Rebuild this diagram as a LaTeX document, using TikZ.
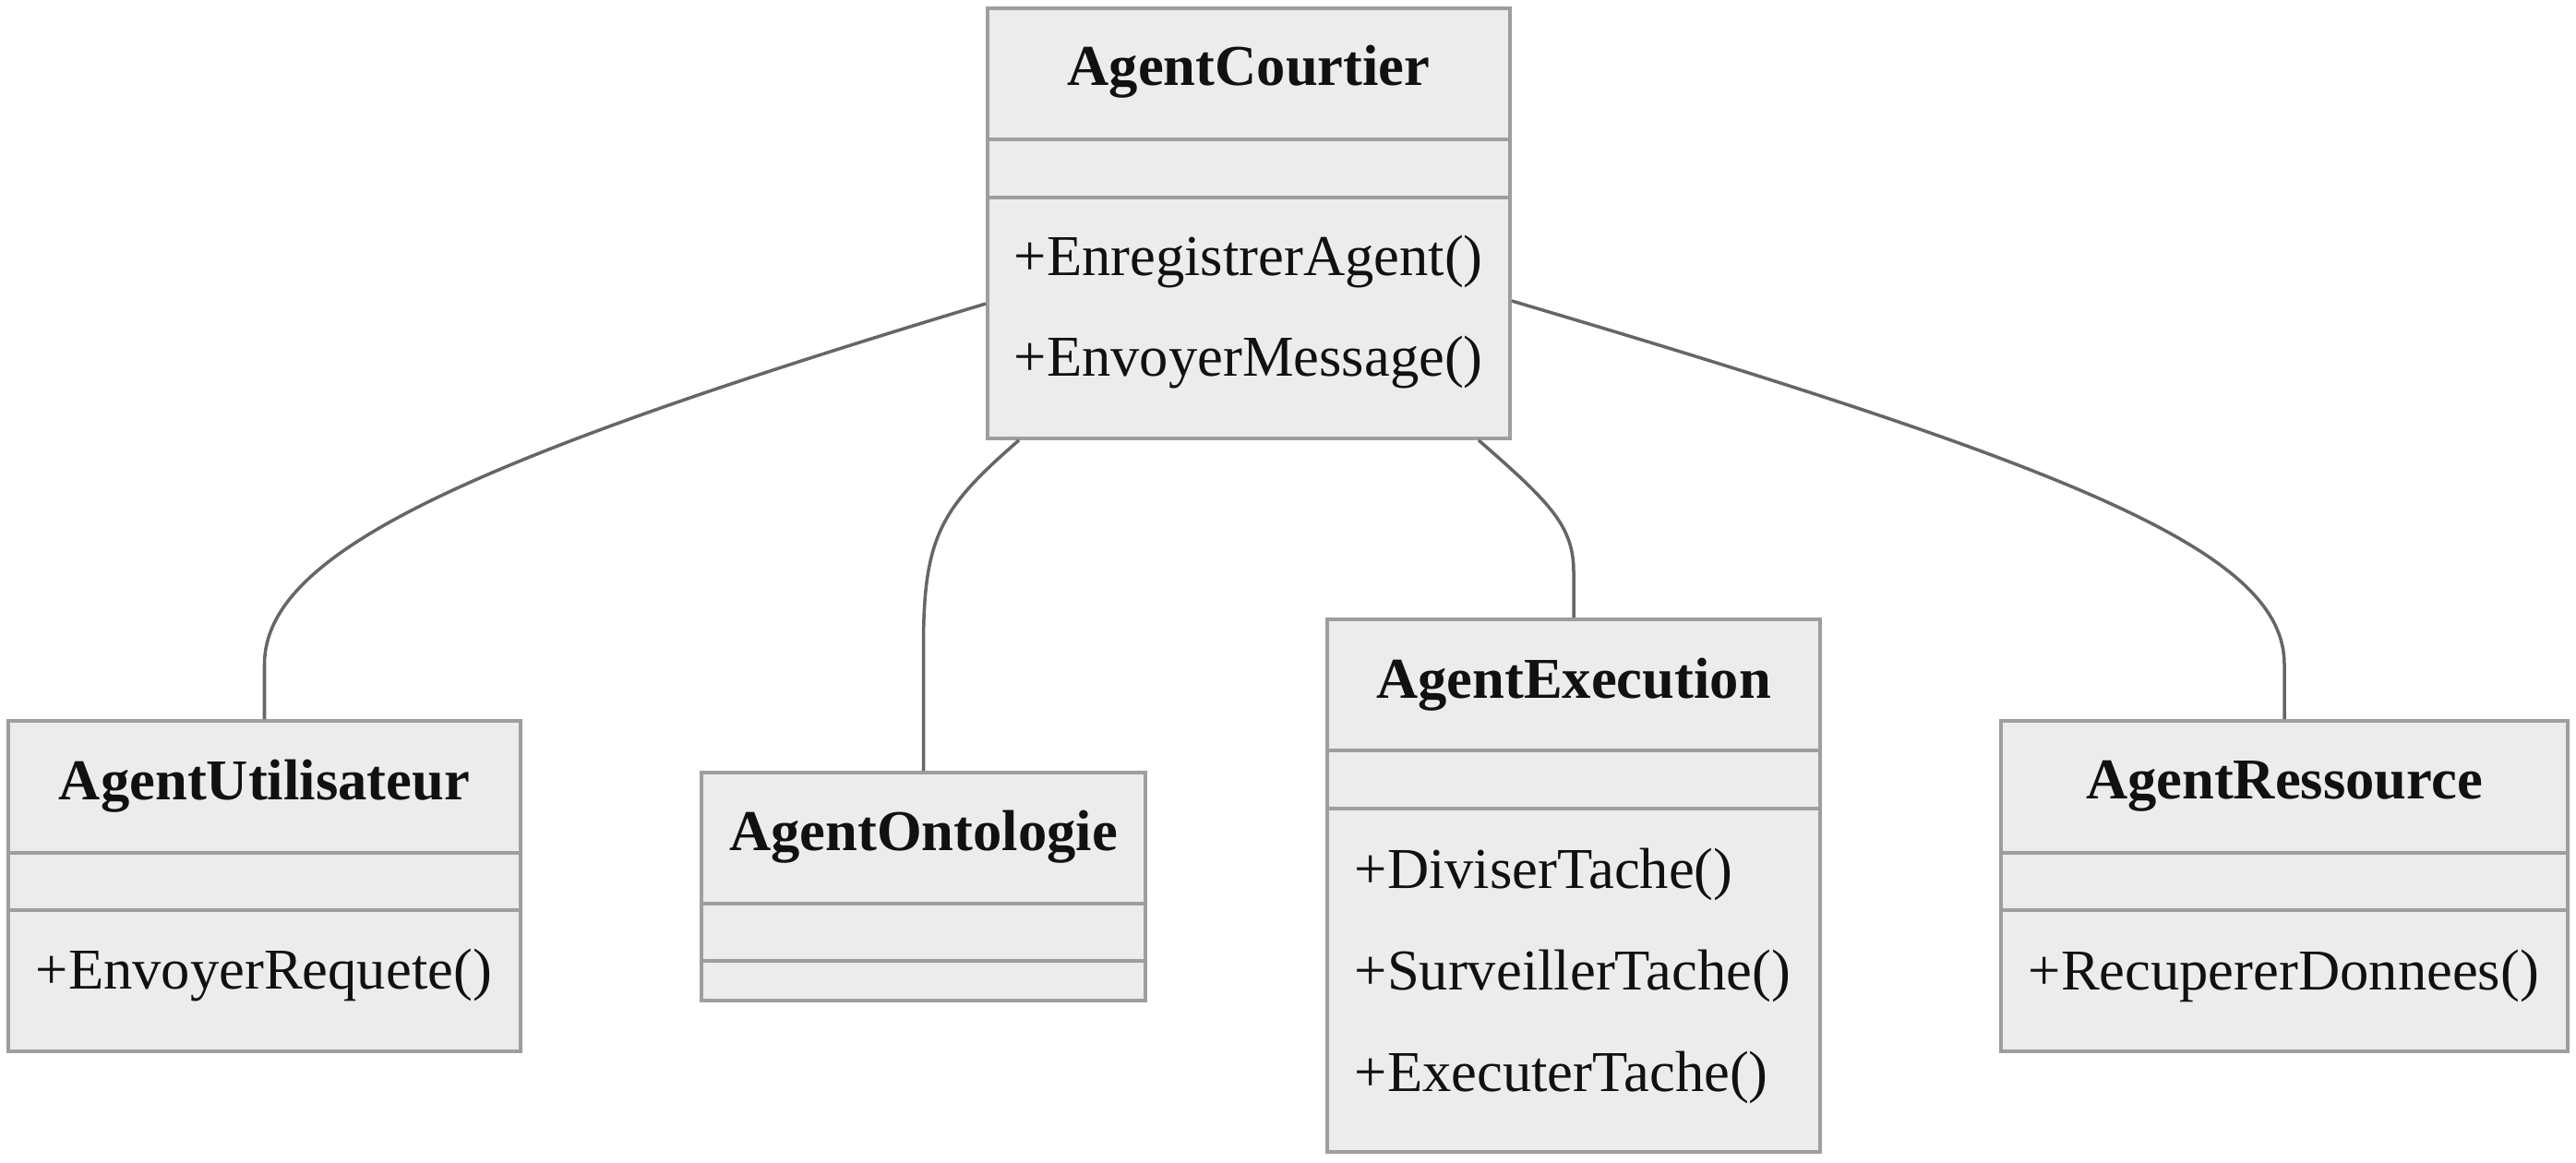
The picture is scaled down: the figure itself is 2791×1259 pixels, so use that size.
\documentclass[tikz,border=0pt]{standalone}
\usepackage{fontspec}
\setmainfont{Liberation Serif}
\definecolor{boxfill}{RGB}{236, 236, 236}
\definecolor{boxline}{RGB}{158, 158, 158}
\definecolor{linkgray}{RGB}{102, 102, 102}
\definecolor{textdark}{RGB}{17, 17, 17}
\usepackage{tikz}
\usetikzlibrary{positioning, calc}

\begin{document}
\begin{tikzpicture}[
  x=0.01cm, y=-0.01cm,
  classbox/.style={draw=boxline, fill=boxfill, line width=1pt, inner sep=0pt},
  divider/.style={draw=boxline, line width=1pt},
  cname/.style={font=\fontsize{17.8}{21}\selectfont\bfseries, text=textdark, inner sep=0pt},
  cmeth/.style={font=\fontsize{17.8}{21}\selectfont, text=textdark, anchor=west, inner sep=0pt},
  link/.style={draw=linkgray, line width=1pt},
]
\useasboundingbox (0,0) rectangle (2791,1259);

% Class boxes
\node[classbox, minimum width=5.66cm, minimum height=4.66cm] (courtier) at (1353, 242) {};
\node[classbox, minimum width=5.55cm, minimum height=3.58cm] (utilisateur) at (286.5, 960) {};
\node[classbox, minimum width=4.81cm, minimum height=2.47cm] (ontologie) at (1000.5, 960.5) {};
\node[classbox, minimum width=5.34cm, minimum height=5.77cm] (execution) at (1705, 959.5) {};
\node[classbox, minimum width=6.14cm, minimum height=3.58cm] (ressource) at (2475, 960) {};

% Compartment lines
\draw[divider] (courtier.west |- 0,151) -- (courtier.east |- 0,151);
\draw[divider] (courtier.west |- 0,214) -- (courtier.east |- 0,214);
\draw[divider] (utilisateur.west |- 0,924) -- (utilisateur.east |- 0,924);
\draw[divider] (utilisateur.west |- 0,986) -- (utilisateur.east |- 0,986);
\draw[divider] (ontologie.west |- 0,979) -- (ontologie.east |- 0,979);
\draw[divider] (ontologie.west |- 0,1041) -- (ontologie.east |- 0,1041);
\draw[divider] (execution.west |- 0,813) -- (execution.east |- 0,813);
\draw[divider] (execution.west |- 0,876) -- (execution.east |- 0,876);
\draw[divider] (ressource.west |- 0,924) -- (ressource.east |- 0,924);
\draw[divider] (ressource.west |- 0,986) -- (ressource.east |- 0,986);

% Class names
\node[cname] (courtierT) at (1353, 78) {AgentCourtier};
\node[cname] (utilisateurT) at (286.5, 852) {AgentUtilisateur};
\node[cname] (ontologieT) at (1000.5, 907) {AgentOntologie};
\node[cname] (executionT) at (1705, 742) {AgentExecution};
\node[cname] (ressourceT) at (2475, 852) {AgentRessource};

% Methods
\node[cmeth] (courtierM1) at (1098, 284) {+EnregistrerAgent()};
\node[cmeth] (courtierM2) at (1098, 393) {+EnvoyerMessage()};
\node[cmeth] (utilisateurM1) at (38, 1057) {+EnvoyerRequete()};
\node[cmeth] (executionM1) at (1467, 947) {+DiviserTache()};
\node[cmeth] (executionM2) at (1467, 1057) {+SurveillerTache()};
\node[cmeth] (executionM3) at (1467, 1167) {+ExecuterTache()};
\node[cmeth] (ressourceM1) at (2197, 1057) {+RecupererDonnees()};

% Links
\draw[link] (courtier.west |- 0,329) .. controls (500,500) and (utilisateur.north |- 0,600) .. (utilisateur.north |- 0,720) -- (utilisateur.north);
\draw[link] (courtier.south west -| 1104,0) .. controls (1020,550) and (ontologie.north |- 0,580) .. (ontologie.north |- 0,700) -- (ontologie.north);
\draw[link] (courtier.south west -| 1602,0) .. controls (1680,545) and (execution.north |- 0,570) .. (execution.north |- 0,620) -- (execution.north);
\draw[link] (courtier.east |- 0,326) .. controls (2260,510) and (ressource.north |- 0,600) .. (ressource.north |- 0,720) -- (ressource.north);
\end{tikzpicture}
\end{document}
